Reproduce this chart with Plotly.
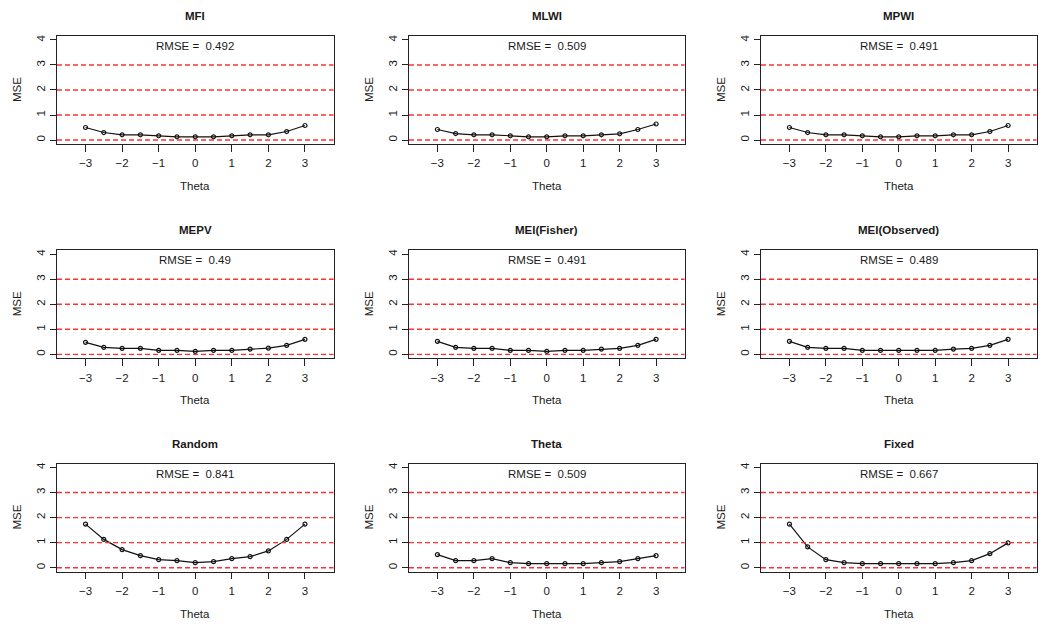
import plotly.graph_objects as go

W, H = 1050, 628

theta = [-3, -2.5, -2, -1.5, -1, -0.5, 0, 0.5, 1, 1.5, 2, 2.5, 3]

titles = ["MFI", "MLWI", "MPWI", "MEPV", "MEI(Fisher)", "MEI(Observed)", "Random", "Theta", "Fixed"]
rmse = ["0.492", "0.509", "0.491", "0.49", "0.491", "0.489", "0.841", "0.509", "0.667"]

mse_mfi = [0.50, 0.30, 0.21, 0.21, 0.17, 0.13, 0.13, 0.13, 0.17, 0.21, 0.21, 0.34, 0.58]
mse_mlwi = [0.42, 0.26, 0.21, 0.21, 0.17, 0.13, 0.13, 0.17, 0.17, 0.21, 0.25, 0.42, 0.64]
mse_mpwi = [0.50, 0.30, 0.21, 0.21, 0.17, 0.13, 0.13, 0.17, 0.17, 0.21, 0.21, 0.34, 0.58]
mse_mepv = [0.48, 0.28, 0.24, 0.24, 0.16, 0.16, 0.12, 0.16, 0.16, 0.21, 0.25, 0.36, 0.60]
mse_mei_fisher = [0.52, 0.28, 0.24, 0.24, 0.16, 0.16, 0.12, 0.16, 0.16, 0.21, 0.24, 0.36, 0.60]
mse_mei_obs = [0.52, 0.28, 0.24, 0.24, 0.16, 0.16, 0.16, 0.16, 0.16, 0.21, 0.24, 0.36, 0.60]
mse_random = [1.74, 1.13, 0.72, 0.48, 0.32, 0.28, 0.20, 0.24, 0.36, 0.44, 0.67, 1.13, 1.74]
mse_theta = [0.52, 0.28, 0.28, 0.36, 0.20, 0.16, 0.16, 0.16, 0.16, 0.20, 0.24, 0.36, 0.48]
mse_fixed = [1.74, 0.83, 0.32, 0.20, 0.16, 0.16, 0.16, 0.16, 0.16, 0.20, 0.28, 0.56, 0.99]

series = [mse_mfi, mse_mlwi, mse_mpwi, mse_mepv, mse_mei_fisher, mse_mei_obs,
          mse_random, mse_theta, mse_fixed]

ref_levels = [0, 1, 2, 3]
x_ticks = [-3, -2, -1, 0, 1, 2, 3]
y_ticks = [0, 1, 2, 3, 4]

col_px = [(57, 333.5), (409, 684.5), (761, 1036.5)]
row_px = [(34, 142.5), (249, 357.5), (463, 571.5)]

FONT = "Liberation Sans, Arial, Helvetica, sans-serif"
TXT = "#1a1a1a"

fig = go.Figure()
annotations = []
shapes = []
layout = dict(
    width=W, height=H,
    margin=dict(l=0, r=0, t=0, b=0),
    paper_bgcolor="white", plot_bgcolor="white",
    showlegend=False,
    font=dict(family=FONT, size=11.5, color=TXT),
)

for i in range(9):
    r, c = divmod(i, 3)
    n = "" if i == 0 else str(i + 1)
    xl, xr = col_px[c]
    yt, yb = row_px[r]
    xd = [xl / W, xr / W]
    yd = [1 - yb / H, 1 - yt / H]
    layout["xaxis" + n] = dict(
        domain=xd, anchor="y" + n, range=[-3.78, 3.78],
        tickvals=x_ticks, ticks="outside", ticklen=6.5, tickwidth=1, tickcolor="#222",
        showline=True, linecolor="#222", linewidth=1, mirror=True,
        showgrid=False, zeroline=False, ticklabelstandoff=2,
        tickfont=dict(family=FONT, size=11.5, color=TXT),
    )
    layout["yaxis" + n] = dict(
        domain=yd, anchor="x" + n, range=[-0.16, 4.16],
        tickvals=y_ticks, ticks="outside", ticklen=6.5, tickwidth=1, tickcolor="#222",
        showline=True, linecolor="#222", linewidth=1, mirror=True,
        showgrid=False, zeroline=False, tickangle=-90,
        tickfont=dict(family=FONT, size=11.5, color=TXT),
    )
    for lv in ref_levels:
        shapes.append(dict(
            type="line", xref="x" + n + " domain", yref="y" + n,
            x0=0, x1=1, y0=lv, y1=lv,
            line=dict(color="#FF3030", width=1.4, dash="5px,3px"),
            layer="above",
        ))
    fig.add_trace(go.Scatter(
        x=theta, y=series[i], mode="lines+markers",
        xaxis="x" + n, yaxis="y" + n,
        line=dict(color="#111", width=1.2),
        marker=dict(symbol="circle-open", size=4, color="#111", line=dict(width=1.2)),
        hoverinfo="skip",
    ))
    cx = (xl + xr) / 2 / W
    annotations.append(dict(
        text="<b>" + titles[i] + "</b>", xref="paper", yref="paper",
        x=cx, y=1 - (yt - 20) / H, xanchor="center", yanchor="middle",
        showarrow=False, font=dict(family=FONT, size=11.5, color=TXT),
    ))
    annotations.append(dict(
        text="Theta", xref="paper", yref="paper",
        x=cx, y=1 - (yb + 42) / H, xanchor="center", yanchor="middle",
        showarrow=False, font=dict(family=FONT, size=11.5, color=TXT),
    ))
    annotations.append(dict(
        text="MSE", xref="paper", yref="paper",
        x=(xl - 40) / W, y=1 - (yt + yb) / 2 / H, xanchor="center", yanchor="middle",
        textangle=-90, showarrow=False, font=dict(family=FONT, size=11.5, color=TXT),
    ))
    annotations.append(dict(
        text="RMSE =\u00a0 " + rmse[i], xref="x" + n, yref="y" + n,
        x=0, y=3.76, xanchor="center", yanchor="middle",
        showarrow=False, font=dict(family=FONT, size=11.5, color=TXT),
    ))

layout["annotations"] = annotations
layout["shapes"] = shapes
fig.update_layout(**layout)
fig.write_html("out.html", config={"displayModeBar": False},
               post_script="document.body.style.margin='0';")
